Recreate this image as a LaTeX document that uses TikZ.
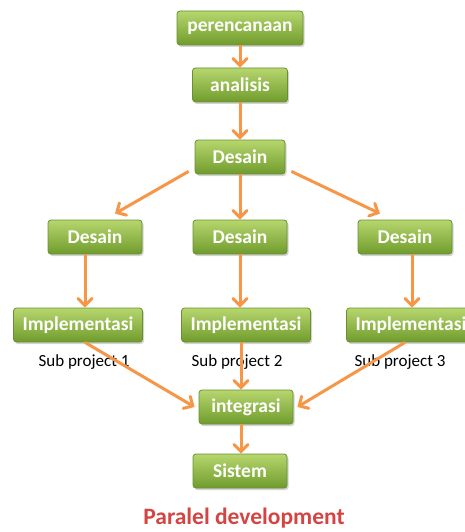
\documentclass[tikz,border=0pt]{standalone}
\usepackage{fontspec}
\setmainfont{Carlito}
\usetikzlibrary{arrows.meta,shadows,positioning}

\definecolor{boxtop}{RGB}{182,214,110}
\definecolor{boxbot}{RGB}{112,156,44}
\definecolor{boxline}{RGB}{104,144,46}
\definecolor{arroworange}{RGB}{247,150,70}
\definecolor{titlered}{RGB}{212,68,66}

\tikzset{
    stagebox/.style={draw=boxline, line width=0.8pt, rounded corners=3pt,
        top color=boxtop, bottom color=boxbot, minimum height=34pt, inner sep=0pt,
        text=white, font=\fontsize{19.5}{21}\selectfont\bfseries,
        drop shadow={shadow xshift=1.5pt, shadow yshift=-2pt, opacity=0.35}},
    flow/.style={draw=arroworange, line width=3pt,
        -{Straight Barb[length=7pt, width=14pt, line cap=round]}},
    sublabel/.style={font=\fontsize{17}{19}\selectfont},
    judul/.style={font=\fontsize{23.5}{25}\selectfont\bfseries, text=titlered}
}

\begin{document}
\begin{tikzpicture}[x=1pt, y=-1pt]
    \useasboundingbox (0,0) rectangle (465,532);

    % =========================================
    % TOP CHAIN
    % =========================================
    \node[stagebox, minimum width=126pt] (plan) at (240,28) {perencanaan};
    \node[stagebox, minimum width=95pt] (anal) at (240,85) {analisis};
    \node[stagebox, minimum width=90pt] (desain) at (240,157) {Desain};

    % =========================================
    % SUB PROJECTS
    % =========================================
    \node[stagebox, minimum width=94pt] (desA) at (95,237) {Desain};
    \node[stagebox, minimum width=94pt] (desB) at (240,237) {Desain};
    \node[stagebox, minimum width=94pt] (desC) at (405,237) {Desain};

    \node[stagebox, minimum width=129pt] (impA) at (78,325) {Implementasi};
    \node[stagebox, minimum width=129pt] (impB) at (246,325) {Implementasi};
    \node[stagebox, minimum width=129pt] (impC) at (411,325) {Implementasi};

    \node[sublabel] (subA) at (84,362) {Sub project 1};
    \node[sublabel] (subB) at (237,362) {Sub project 2};
    \node[sublabel] (subC) at (400,362) {Sub project 3};

    % =========================================
    % MERGE
    % =========================================
    \node[stagebox, minimum width=94pt] (integ) at (246,407) {integrasi};
    \node[stagebox, minimum width=94pt] (sis) at (240,471) {Sistem};

    \node[judul] (title) at (244,518) {Paralel development};

    % --- Arrows ---
    \draw[flow] (plan) -- (anal);
    \draw[flow] (anal) -- (desain);

    \draw[flow] ([shift={(-6,-3)}]desain.south west) -- ([shift={(20,-6)}]desA.north);
    \draw[flow] (desain) -- (desB);
    \draw[flow] ([shift={(6,-3)}]desain.south east) -- ([shift={(-25,-6)}]desC.north);

    \draw[flow] ([xshift=-10pt]desA.south) -- ([xshift=-10pt]desA.south |- impA.north);
    \draw[flow] (desB.south) -- (desB.south |- impB.north);
    \draw[flow] ([xshift=7pt]desC.south) -- ([xshift=7pt]desC.south |- impC.north);

    \draw[flow] ([xshift=7pt]impA.south) -- ([xshift=-4pt]integ.west);
    \draw[flow] ([xshift=-5pt]impB.south) -- ([xshift=-5pt]impB.south |- integ.north);
    \draw[flow] ([xshift=-6pt]impC.south) -- ([xshift=4pt]integ.east);

    \draw[flow] ([xshift=-5pt]integ.south) -- ([xshift=-5pt]integ.south |- sis.north);
\end{tikzpicture}
\end{document}
